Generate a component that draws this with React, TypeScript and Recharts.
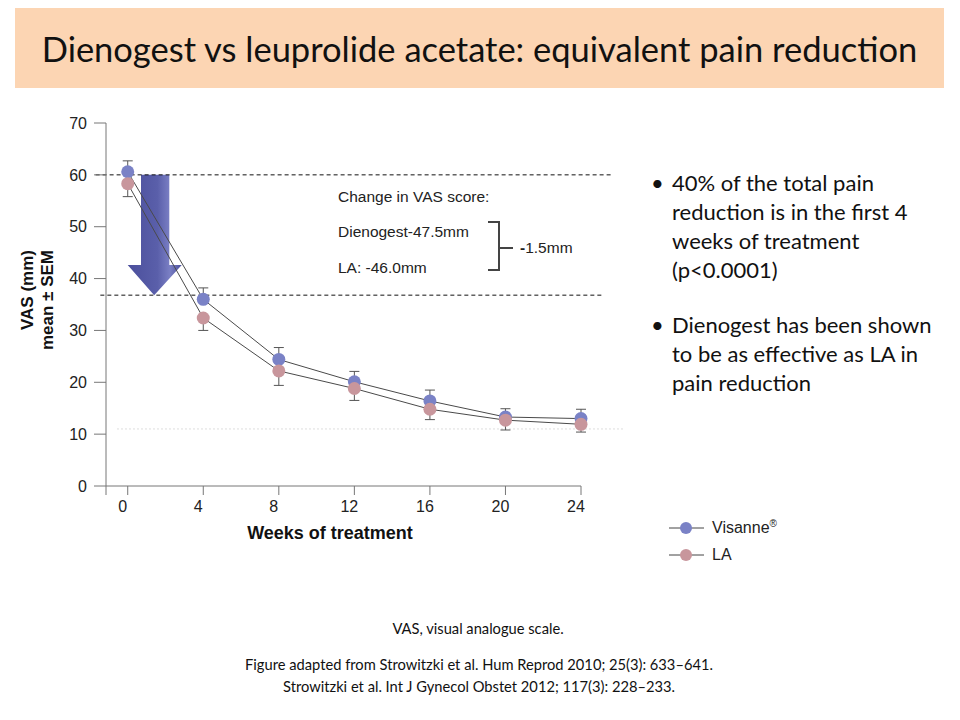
import {
  ErrorBar,
  Line,
  LineChart,
  ReferenceArea,
  ReferenceLine,
  XAxis,
  YAxis,
} from "recharts";

const weeks = [0, 4, 8, 12, 16, 20, 24];
const visanne = [60.6, 36.0, 24.4, 20.1, 16.4, 13.3, 13.0];
const visanneSemUp = [2.1, 2.2, 2.3, 2.0, 2.1, 1.6, 1.8];
const la = [58.3, 32.4, 22.2, 18.8, 14.8, 12.7, 11.9];
const laSemDown = [2.5, 2.4, 2.8, 2.3, 2.0, 1.9, 1.5];

const xTicks = [-1.15, 0, 4, 8, 12, 16, 20, 24];
const yTicks = [0, 10, 20, 30, 40, 50, 60, 70];

const baselineVas = 60;
const week4Vas = 36.8;
const endVas = 11;

const BLUE = "#7a82c6";
const PINK = "#c8969c";
const AXIS = "#777";

const data = weeks.map((w, i) => ({
  week: w,
  visanne: visanne[i],
  la: la[i],
  visanneErr: [0, visanneSemUp[i]],
  laErr: [laSemDown[i], 0],
}));

const legendItems = [
  { label: "Visanne", sup: "®", color: BLUE },
  { label: "LA", sup: "", color: PINK },
];

function DownArrow(props: any) {
  const { x, y, width, height } = props;
  const sl = x + width * 0.246;
  const sr = x + width * 0.77;
  const hy = y + height * 0.75;
  const pts = [
    [sl, y],
    [sr, y],
    [sr, hy],
    [x + width, hy],
    [x + width * 0.49, y + height],
    [x, hy],
    [sl, hy],
  ]
    .map((p) => p.join(","))
    .join(" ");
  return (
    <g>
      <defs>
        <linearGradient id="arrowFill" x1="0" y1="0" x2="1" y2="0">
          <stop offset="0%" stopColor="#4b4f9c" />
          <stop offset="55%" stopColor="#5a5faa" />
          <stop offset="78%" stopColor="#7a7fc4" />
          <stop offset="100%" stopColor="#4b4f9c" />
        </linearGradient>
      </defs>
      <polygon points={pts} fill="url(#arrowFill)" />
    </g>
  );
}

const abs = (left: number, top: number, extra: any = {}) => ({
  position: "absolute" as const,
  left,
  top,
  whiteSpace: "nowrap" as const,
  ...extra,
});

const note = { fontFamily: "Liberation Sans", fontSize: 15.5, color: "#222" };

export default function App() {
  const bulletText = { fontFamily: "Lato", fontSize: 22, color: "#111", lineHeight: "29px" };
  const foot = { transform: "translate(-50%, -50%)", fontFamily: "Lato", fontSize: 14.7, color: "#111" };
  return (
    <div style={{ position: "absolute", left: 0, top: 0, width: 960, height: 720, background: "#fff", overflow: "hidden" }}>
      <div
        style={{
          position: "absolute",
          left: 15,
          top: 8,
          width: 929,
          height: 80,
          background: "#fcd5b3",
          display: "flex",
          alignItems: "center",
          justifyContent: "center",
          fontFamily: "Lato",
          fontSize: 34.5,
          color: "#111",
        }}
      >
        Dienogest vs leuprolide acetate: equivalent pain reduction
      </div>

      <div style={abs(0, 100)}>
        <LineChart
          width={640}
          height={420}
          data={data}
          margin={{ top: 23, right: 59, bottom: 2, left: 46 }}
        >
          <XAxis
            dataKey="week"
            type="number"
            domain={[-1.15, 24]}
            ticks={xTicks}
            tickFormatter={(v) => (v < 0 ? "" : String(v))}
            tick={{ fontSize: 16, fill: "#222", fontFamily: "Liberation Sans", dx: -5 }}
            tickSize={9}
            tickMargin={6}
            height={32}
            stroke={AXIS}
          />
          <YAxis
            type="number"
            domain={[0, 70]}
            ticks={yTicks}
            tick={{ fontSize: 16, fill: "#222", fontFamily: "Liberation Sans" }}
            tickSize={12}
            tickMargin={7}
            width={60}
            stroke={AXIS}
          />
          <ReferenceLine
            segment={[{ x: -0.57, y: endVas }, { x: 26.3, y: endVas }]}
            ifOverflow="visible"
            stroke="#ddd"
            strokeDasharray="2 2"
          />
          <ReferenceLine
            segment={[{ x: -1.7, y: baselineVas }, { x: 25.6, y: baselineVas }]}
            ifOverflow="visible"
            stroke="#111"
            strokeDasharray="4 3"
          />
          <ReferenceLine
            segment={[{ x: -1.45, y: week4Vas }, { x: 25.2, y: week4Vas }]}
            ifOverflow="visible"
            stroke="#111"
            strokeDasharray="4 3"
          />
          <Line
            dataKey="visanne"
            name="Visanne"
            stroke="#4a4a4a"
            strokeWidth={1}
            dot={{ r: 6.5, fill: BLUE, stroke: "none" }}
            isAnimationActive={false}
          >
            <ErrorBar dataKey="visanneErr" direction="y" width={5} stroke="#555" strokeWidth={1} />
          </Line>
          <Line
            dataKey="la"
            name="LA"
            stroke="#4a4a4a"
            strokeWidth={1}
            dot={{ r: 6.5, fill: PINK, stroke: "none" }}
            isAnimationActive={false}
          >
            <ErrorBar dataKey="laErr" direction="y" width={5} stroke="#555" strokeWidth={1} />
          </Line>
          <ReferenceArea
            x1={0}
            x2={2.86}
            y1={week4Vas}
            y2={baselineVas}
            shape={<DownArrow />}
          />
        </LineChart>
      </div>

      <div style={abs(666, 514, { fontFamily: "Liberation Sans", fontSize: 16, color: "#222" })}>
        {legendItems.map((it) => (
          <div key={it.label} style={{ display: "flex", alignItems: "center", height: 27 }}>
            <svg width={40} height={16} style={{ marginRight: 6 }}>
              <line x1={3} y1={8} x2={38} y2={8} stroke="#444" strokeWidth={1} />
              <circle cx={20} cy={8} r={6} fill={it.color} />
            </svg>
            <span>
              {it.label}
              {it.sup && <sup style={{ fontSize: 10 }}>{it.sup}</sup>}
            </span>
          </div>
        ))}
      </div>

      <div style={abs(338, 188, note)}>Change in VAS score:</div>
      <div style={abs(338, 223, note)}>Dienogest-47.5mm</div>
      <div style={abs(338, 259, note)}>LA: -46.0mm</div>
      <svg style={abs(480, 215)} width={40} height={62}>
        <path d="M8,7 H19 V55 H8 M19,33 H33" fill="none" stroke="#444" strokeWidth={2} />
      </svg>
      <div style={abs(520, 239, note)}>
        <b>-</b>1.5mm
      </div>

      <div style={abs(28, 290, { transform: "translate(-50%, -50%) rotate(-90deg)", fontFamily: "Liberation Sans", fontWeight: "bold", fontSize: 17, color: "#111" })}>
        VAS (mm)
      </div>
      <div style={abs(48, 300, { transform: "translate(-50%, -50%) rotate(-90deg)", fontFamily: "Liberation Sans", fontWeight: "bold", fontSize: 17, color: "#111" })}>
        mean ± SEM
      </div>
      <div style={abs(330, 533, { transform: "translate(-50%, -50%)", fontFamily: "Liberation Sans", fontWeight: "bold", fontSize: 18, color: "#111" })}>
        Weeks of treatment
      </div>

      <div style={abs(651, 168, bulletText)}>•</div>
      <div style={abs(672, 168, bulletText)}>
        40% of the total pain
        <br />
        reduction is in the first 4
        <br />
        weeks of treatment
        <br />
        (p&lt;0.0001)
      </div>
      <div style={abs(651, 310, bulletText)}>•</div>
      <div style={abs(672, 310, bulletText)}>
        Dienogest has been shown
        <br />
        to be as effective as LA in
        <br />
        pain reduction
      </div>

      <div style={abs(478, 628, foot)}>VAS, visual analogue scale.</div>
      <div style={abs(479, 664, foot)}>
        Figure adapted from Strowitzki et al. Hum Reprod 2010; 25(3): 633–641.
      </div>
      <div style={abs(479, 686, foot)}>
        Strowitzki et al. Int J Gynecol Obstet 2012; 117(3): 228–233.
      </div>
    </div>
  );
}
